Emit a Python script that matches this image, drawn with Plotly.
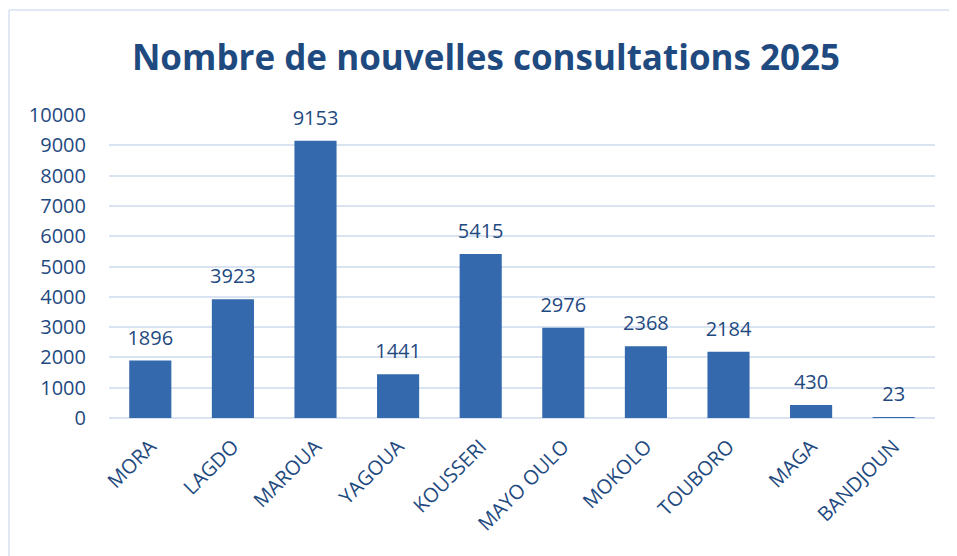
import plotly.graph_objects as go

categories = ["MORA", "LAGDO", "MAROUA", "YAGOUA", "KOUSSERI", "MAYO OULO",
              "MOKOLO", "TOUBORO", "MAGA", "BANDJOUN"]
values = [1896, 3923, 9153, 1441, 5415, 2976, 2368, 2184, 430, 23]
y_ticks = [0, 1000, 2000, 3000, 4000, 5000, 6000, 7000, 8000, 9000, 10000]

# the page body adds an 8px offset, so the figure is drawn 8px smaller
W, H = 949, 548
ML, MR, MT, MB = 101, 22, 107, 138
TXT = "#1f4a7f"
FONT = "Open Sans"
PW, PH = W - ML - MR, H - MT - MB

fig = go.Figure()
fig.add_trace(go.Bar(
    x=categories, y=values,
    marker=dict(color="#3469ad", line=dict(width=0)),
    hoverinfo="x+y",
))
fig.add_trace(go.Scatter(
    x=categories, y=values, mode="markers+text",
    text=[str(v) for v in values], textposition="top center",
    marker=dict(size=16, opacity=0),
    textfont=dict(family=FONT, size=20, color=TXT),
    hoverinfo="skip", showlegend=False, cliponaxis=False,
))

fig.update_layout(
    width=W, height=H,
    margin=dict(l=ML, r=MR, t=MT, b=MB, autoexpand=False),
    paper_bgcolor="white", plot_bgcolor="white",
    showlegend=False, bargap=0.49,
    title=dict(text="<b>Nombre de nouvelles consultations 2025</b>",
               x=478 / W, xref="container", xanchor="center",
               y=1 - 50 / H, yref="container", yanchor="middle",
               font=dict(family=FONT, size=35, color=TXT)),
    font=dict(family=FONT, color=TXT),
    xaxis=dict(range=[-0.5, len(categories) - 0.5], tickangle=-45,
               tickfont=dict(family=FONT, size=20, color=TXT),
               showgrid=False, showline=False, ticks="", ticklabelstandoff=12),
    yaxis=dict(range=[0, 10000], tickvals=y_ticks, ticktext=[str(t) for t in y_ticks],
               tickfont=dict(family=FONT, size=20, color=TXT),
               showgrid=True, gridcolor="#d9e3f1", gridwidth=1.5,
               zeroline=True, zerolinecolor="#d9e3f1", zerolinewidth=1.5,
               showline=False, ticks="", ticklabelstandoff=22),
    shapes=[
        dict(type="line", xref="paper", yref="paper",
             x0=(1 - ML) / PW, x1=(W + 5 - ML) / PW,
             y0=(H - MB - 2) / PH, y1=(H - MB - 2) / PH,
             line=dict(color="#d6e1ef", width=1.5)),
        dict(type="line", xref="paper", yref="paper",
             x0=(1 - ML) / PW, x1=(1 - ML) / PW,
             y0=(H - MB - 2) / PH, y1=(-MB - 5) / PH,
             line=dict(color="#d6e1ef", width=1.5)),
    ],
)

fig.write_html("out.html")
